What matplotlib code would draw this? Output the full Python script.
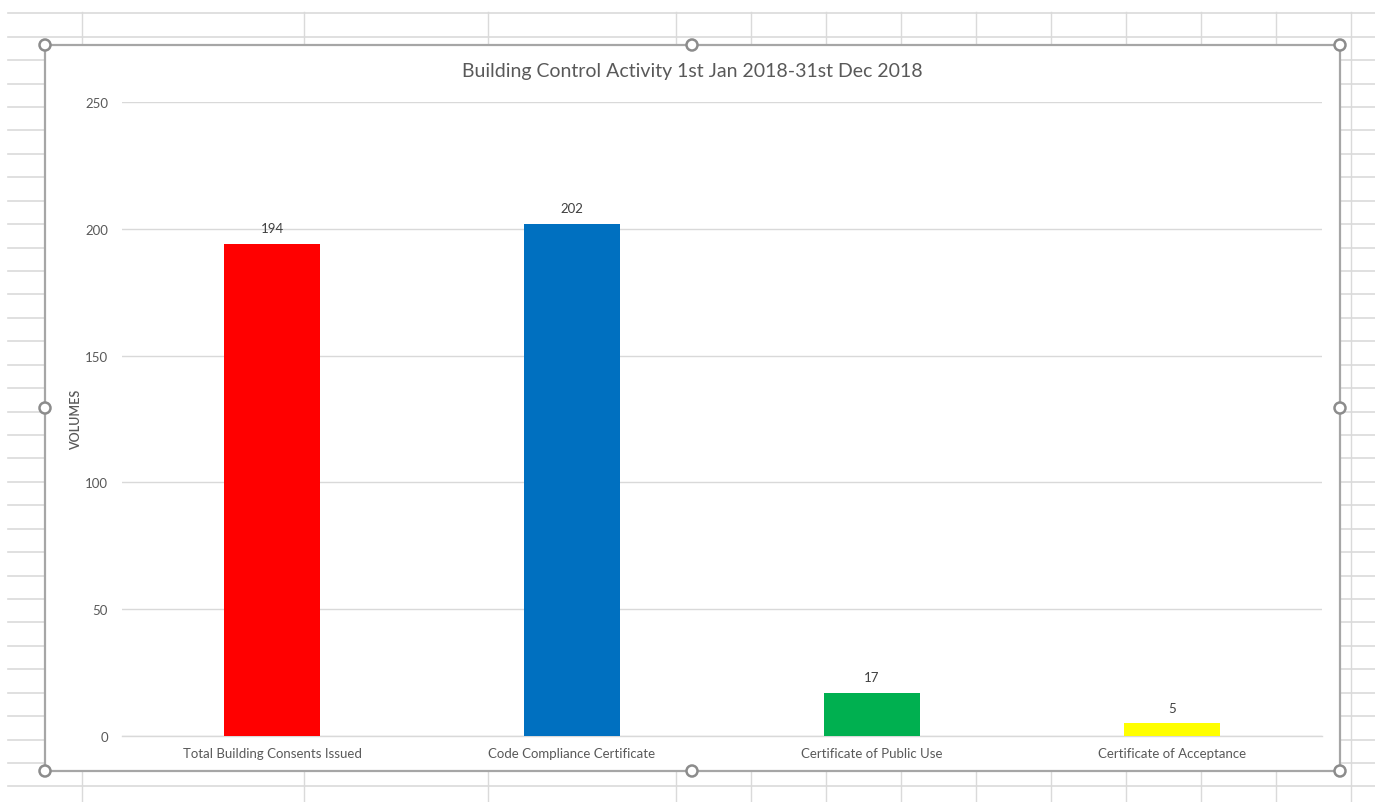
import matplotlib
matplotlib.use("Agg")
import matplotlib.pyplot as plt
from matplotlib.lines import Line2D
from matplotlib.patches import Rectangle, Circle

categories = ["Total Building Consents Issued", "Code Compliance Certificate",
              "Certificate of Public Use", "Certificate of Acceptance"]
values = [194, 202, 17, 5]
colors = ["#FF0000", "#0070C0", "#00B050", "#FFFF00"]
yticks = [0, 50, 100, 150, 200, 250]
title = "Building Control Activity 1st Jan 2018-31st Dec 2018"
ylabel = "VOLUMES"

W, H = 1375, 803
plt.rcParams['font.family'] = ['Lato', 'DejaVu Sans']
fig = plt.figure(figsize=(W / 100, H / 100), dpi=100)
fig.patch.set_facecolor("white")

def fx(x):
    return x / W

def fy(y):
    return 1 - y / H

grid_c = "#dadada"
# spreadsheet grid in the background
for k in range(34):
    y = 14.3 + 23.43 * k
    fig.add_artist(Line2D([fx(8), fx(W)], [fy(y), fy(y)], color=grid_c, lw=1.2, zorder=-5))
for x in [82, 303.5, 487.5, 676, 751, 826, 901, 976, 1051, 1126, 1201, 1276, 1351]:
    fig.add_artist(Line2D([fx(x), fx(x)], [fy(13), fy(H)], color=grid_c, lw=1.0, zorder=-5))

# chart frame
L, T, R, B = 45, 46, 1340, 772
fig.add_artist(Rectangle((fx(L), fy(B)), fx(R) - fx(L), fy(T) - fy(B),
                         facecolor="white", edgecolor="#a6a6a6", lw=1.6, zorder=-2))
for hx, hy in [(L, T), (692, T), (R, T), (L, 409), (R, 409), (L, B), (692, B), (R, B)]:
    fig.add_artist(Circle((hx, H - hy), 5.5, transform=None, facecolor="white",
                          edgecolor="#8c8c8c", lw=1.8, zorder=5))

ax = fig.add_axes([fx(122), fy(737), fx(1322) - fx(122), fy(103) - fy(737)])
ax.patch.set_visible(False)
x = list(range(len(categories)))
bars = ax.bar(x, values, width=0.317, color=colors, zorder=3)
ax.set_xlim(-0.5, len(categories) - 0.5)
ax.set_ylim(0, 250)
ax.set_yticks(yticks)
ax.set_xticks(x)
ax.set_xticklabels(categories)
ax.grid(axis="y", color="#d9d9d9", lw=1.0, zorder=0)
for s in ["top", "right", "left"]:
    ax.spines[s].set_visible(False)
ax.spines["bottom"].set_color("#d9d9d9")
ax.spines["bottom"].set_linewidth(1.0)
ax.tick_params(axis="both", length=0, labelsize=9.5, labelcolor="#595959")
ax.tick_params(axis="y", pad=10)
ax.tick_params(axis="x", pad=8)
for b, v in zip(bars, values):
    ax.annotate(str(v), (b.get_x() + b.get_width() / 2, v), xytext=(0, 7),
                textcoords="offset points", ha="center", va="bottom",
                fontsize=9.5, color="#404040")
ax.set_ylabel(ylabel, fontsize=9, color="#595959", fontweight="semibold")
ax.yaxis.set_label_coords((82 - 122) / 1200, 0.5)
fig.text(fx(692), fy(72), title, ha="center", va="center", fontsize=14, color="#595959")

fig.savefig("out.png", dpi=100)
